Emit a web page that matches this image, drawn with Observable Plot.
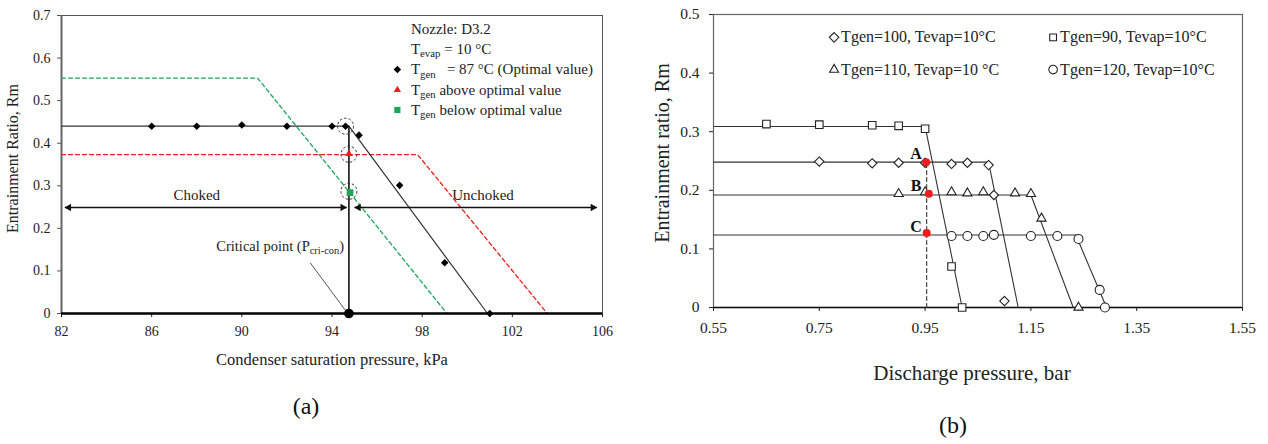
<!DOCTYPE html>
<html><head><meta charset="utf-8">
<script src="https://cdn.jsdelivr.net/npm/d3@7"></script>
<script src="https://cdn.jsdelivr.net/npm/@observablehq/plot@0.6"></script>
<style>
body{margin:0;background:#fff;}
#wrap{position:relative;width:1268px;height:444px;overflow:hidden;background:#fff;}
#pa{position:absolute;left:0;top:0;}
#pb{position:absolute;left:634px;top:0;}
svg text{white-space:pre;}
</style></head><body><div id="wrap"><div id="pa"></div><div id="pb"></div></div>
<script>
// ---------- Panel (a) data ----------
const aXTicks = [82, 86, 90, 94, 98, 102, 106];
const aYTicks = [0, 0.1, 0.2, 0.3, 0.4, 0.5, 0.6, 0.7];
const aXLabel = "Condenser saturation pressure, kPa";
const aYLabel = "Entrainment Ratio, Rm";
const aCaption = "(a)";
const aOptX = [86, 88, 90, 92, 94, 94.6, 95.2, 97, 99, 101];
const aOptY = [0.44, 0.44, 0.443, 0.44, 0.44, 0.44, 0.419, 0.301, 0.119, 0];
const aOptFitX = [82, 94.75, 100.9];
const aOptFitY = [0.44, 0.44, 0];
const aAboveFitX = [82, 97.8, 103.55];
const aAboveFitY = [0.373, 0.373, 0];
const aBelowFitX = [82, 90.7, 99.1];
const aBelowFitY = [0.553, 0.553, 0];
const aCritX = [94.75];
const aCritTop = [0.44];
const aCritPointY = [0];
const aAboveX = [94.75];
const aAboveY = [0.375];
const aBelowX = [94.8];
const aBelowY = [0.284];
const aRingX = [94.6, 94.75, 94.75];
const aRingY = [0.44, 0.374, 0.287];
const aArrowY = [0.249, 0.249];
const aArrowX1 = [82.15, 95.0];
const aArrowX2 = [94.65, 105.75];
const aRegionLabels = ["Choked", "Unchoked"];
const aRegionX = [88, 100.7];
const aRegionY = [0.279, 0.279];
const aCritLabel = ["Critical point (P[cri-con])"];
const aCritLabelX = [91.7];
const aCritLabelY = [0.158];
const aLeaderX = [93.05, 94.7];
const aLeaderY = [0.118, 0.0];
const aLegendText = ["Nozzle: D3.2", "T[evap] = 10 °C", "T[gen]   = 87 °C (Optimal value)", "T[gen] above optimal value", "T[gen] below optimal value"];
const aLegendY = [0.669, 0.622, 0.573, 0.525, 0.478];
const aLegendX = 97.5;
const aLegendSymX = 96.9;

// ---------- Panel (b) data ----------
const bXTicks = [0.55, 0.75, 0.95, 1.15, 1.35, 1.55];
const bYTicks = [0, 0.1, 0.2, 0.3, 0.4, 0.5];
const bXLabel = "Discharge pressure, bar";
const bYLabel = "Entrainment ratio, Rm";
const bCaption = "(b)";
const b90X = [0.65, 0.75, 0.85, 0.90, 0.95, 1.00, 1.02];
const b90Y = [0.313, 0.312, 0.311, 0.310, 0.305, 0.070, 0.0];
const b100X = [0.75, 0.85, 0.90, 0.95, 1.00, 1.03, 1.07, 1.08, 1.10];
const b100Y = [0.249, 0.246, 0.247, 0.247, 0.245, 0.247, 0.243, 0.192, 0.011];
const b110X = [0.90, 0.95, 1.00, 1.03, 1.06, 1.12, 1.15, 1.17, 1.24];
const b110Y = [0.194, 0.197, 0.197, 0.195, 0.197, 0.195, 0.194, 0.152, 0.0];
const b120X = [1.00, 1.03, 1.06, 1.08, 1.15, 1.20, 1.24, 1.28, 1.29];
const b120Y = [0.122, 0.122, 0.122, 0.124, 0.122, 0.122, 0.117, 0.030, 0.0];
const b90FitX = [0.55, 0.95, 1.02];
const b90FitY = [0.309, 0.309, 0];
const b100FitX = [0.55, 1.07, 1.126];
const b100FitY = [0.248, 0.248, 0];
const b110FitX = [0.55, 1.15, 1.23];
const b110FitY = [0.192, 0.192, 0];
const b120FitX = [0.55, 1.235, 1.293];
const b120FitY = [0.1236, 0.1236, 0];
const bMarkLabels = ["A", "B", "C"];
const bMarkX = [0.952, 0.957, 0.953];
const bMarkY = [0.248, 0.194, 0.127];
const bMarkLabelX = [0.933, 0.933, 0.933];
const bMarkLabelY = [0.262, 0.208, 0.138];
const bDashX = [0.953, 0.953];
const bDashY = [0, 0.248];
const bLegendLabels = ["Tgen=100, Tevap=10°C", "Tgen=90, Tevap=10°C", "Tgen=110, Tevap=10 °C", "Tgen=120, Tevap=10°C"];
const bLegendSymbols = ["diamond2", "square2", "triangle2", "circle"];
const bLegendX = [0.778, 1.192, 0.778, 1.192];
const bLegendY = [0.461, 0.461, 0.406, 0.406];

const serif = "'Liberation Serif', 'Times New Roman', serif";
const ink = "#222";
const red = "#ee1c1c";
const green = "#1fa55a";
const zip = (xs, ys, extra = {}) => xs.map((x, i) => ({x, y: ys[i], i, ...Object.fromEntries(Object.entries(extra).map(([k, v]) => [k, v[i]]))}));
const fmtY = d => d === 0 ? "0" : String(d);

// ---------- Panel (a) ----------
const plotA = Plot.plot({
  width: 634, height: 444,
  marginLeft: 61, marginRight: 32, marginTop: 15, marginBottom: 131,
  style: {fontFamily: serif, fontSize: "14px", color: ink, background: "white", overflow: "visible"},
  x: {domain: [82, 106]},
  y: {domain: [0, 0.7]},
  marks: [
    Plot.frame({stroke: "#555", strokeWidth: 1}),
    Plot.ruleX([82], {stroke: "#666", strokeWidth: 2}),
    Plot.axisX({ticks: aXTicks, tickFormat: d => String(d), tickSize: 4, tickPadding: 9, fontSize: 14, fontFamily: serif, label: null, stroke: ink}),
    Plot.axisY({ticks: aYTicks, tickFormat: fmtY, tickSize: 4, tickPadding: 7, fontSize: 14, fontFamily: serif, label: null, stroke: "#555"}),
    // fitted lines
    Plot.line(zip(aBelowFitX, aBelowFitY), {x: "x", y: "y", stroke: green, strokeWidth: 1.3, strokeDasharray: "4,3"}),
    Plot.line(zip(aAboveFitX, aAboveFitY), {x: "x", y: "y", stroke: red, strokeWidth: 1.3, strokeDasharray: "4,3"}),
    Plot.line(zip(aOptFitX, aOptFitY), {x: "x", y: "y", stroke: "#333", strokeWidth: 1.2}),
    Plot.ruleX(zip(aCritX, aCritTop), {x: "x", y1: 0, y2: "y", stroke: "#111", strokeWidth: 1.6}),
    Plot.ruleY([0], {stroke: "#000", strokeWidth: 2.5}),
    // arrows
    Plot.link(zip(aArrowX1, aArrowY, {x2: aArrowX2}), {x1: "x", x2: "x2", y1: "y", y2: "y", stroke: "#111", strokeWidth: 1.3}),
    Plot.dot(zip(aArrowX1, aArrowY), {x: "x", y: "y", symbol: "triangle2", r: 3.6, rotate: -90, fill: "#111", stroke: null, dx: 4}),
    Plot.dot(zip(aArrowX2, aArrowY), {x: "x", y: "y", symbol: "triangle2", r: 3.6, rotate: 90, fill: "#111", stroke: null, dx: -4}),
    // leader
    Plot.line(zip(aLeaderX, aLeaderY), {x: "x", y: "y", stroke: "#555", strokeWidth: 1}),
    // points
    Plot.dot(zip(aOptX, aOptY), {x: "x", y: "y", symbol: "diamond2", r: 3.4, fill: "#000", stroke: null}),
    Plot.dot(zip(aCritX, aCritPointY), {x: "x", y: "y", r: 4.8, fill: "#000", stroke: null}),
    Plot.dot(zip(aAboveX, aAboveY), {x: "x", y: "y", symbol: "triangle2", r: 3.6, fill: red, stroke: null}),
    Plot.dot(zip(aBelowX, aBelowY), {x: "x", y: "y", symbol: "square", r: 3.8, fill: green, stroke: null}),
    Plot.dot(zip(aRingX, aRingY), {x: "x", y: "y", r: 8, fill: "none", stroke: "#333", strokeWidth: 1, strokeDasharray: "2.5,2"}),
    // annotations
    Plot.text(zip(aRegionX, aRegionY, {t: aRegionLabels}), {x: "x", y: "y", text: "t", fontSize: 15, fontFamily: serif, fill: ink}),
    Plot.text(zip(aCritLabelX, aCritLabelY, {t: aCritLabel}), {x: "x", y: "y", text: "t", fontSize: 14.5, fontFamily: serif, fill: ink}),
    // legend
    Plot.text(aLegendText.map((t, i) => ({t, y: aLegendY[i]})), {x: aLegendX, y: "y", text: "t", textAnchor: "start", fontSize: 15, fontFamily: serif, fill: ink}),
    Plot.dot([{y: aLegendY[2]}], {x: aLegendSymX, y: "y", symbol: "diamond2", r: 3.4, fill: "#000", stroke: null}),
    Plot.dot([{y: aLegendY[3]}], {x: aLegendSymX, y: "y", symbol: "triangle2", r: 3.5, fill: red, stroke: null}),
    Plot.dot([{y: aLegendY[4]}], {x: aLegendSymX, y: "y", symbol: "square", r: 3.5, fill: green, stroke: null}),
    // axis labels + caption
    Plot.text([aXLabel], {frameAnchor: "bottom", dy: 51, fontSize: 16.5, fontFamily: serif, fill: ink}),
    Plot.text([aYLabel], {frameAnchor: "left", textAnchor: "middle", rotate: -90, dx: -49, dy: -6, fontSize: 16, fontFamily: serif, fill: ink}),
    Plot.text([aCaption], {frameAnchor: "bottom", dx: -26, dy: 100, fontSize: 24, fontFamily: serif, fill: "#111"})
  ]
});
document.getElementById("pa").appendChild(plotA);

// ---------- Panel (b) ----------
const seriesB = [
  {X: b90X, Y: b90Y, FX: b90FitX, FY: b90FitY, sym: "square2", r: 4.8},
  {X: b100X, Y: b100Y, FX: b100FitX, FY: b100FitY, sym: "diamond2", r: 4.2},
  {X: b110X, Y: b110Y, FX: b110FitX, FY: b110FitY, sym: "triangle2", r: 4.4},
  {X: b120X, Y: b120Y, FX: b120FitX, FY: b120FitY, sym: "circle", r: 4.5}
];
const plotB = Plot.plot({
  width: 634, height: 444,
  marginLeft: 79, marginRight: 26, marginTop: 14, marginBottom: 137,
  style: {fontFamily: serif, fontSize: "15.5px", color: ink, background: "white", overflow: "visible"},
  x: {domain: [0.55, 1.55]},
  y: {domain: [0, 0.5]},
  marks: [
    Plot.frame({stroke: "#666", strokeWidth: 1.2}),
    Plot.axisX({ticks: bXTicks, tickFormat: d => d.toFixed(2), tickSize: 4, tickPadding: 10, fontSize: 15.5, fontFamily: serif, label: null, stroke: ink}),
    Plot.axisY({ticks: bYTicks, tickFormat: fmtY, tickSize: 4, tickPadding: 10, fontSize: 15.5, fontFamily: serif, label: null, stroke: ink}),
    Plot.ruleY([0], {stroke: "#111", strokeWidth: 1.5}),
    ...seriesB.map(s => Plot.line(zip(s.FX, s.FY), {x: "x", y: "y", stroke: "#333", strokeWidth: 1.1})),
    Plot.line(zip(bDashX, bDashY), {x: "x", y: "y", stroke: "#333", strokeWidth: 1.1, strokeDasharray: "4,3"}),
    ...seriesB.map(s => Plot.dot(zip(s.X, s.Y), {x: "x", y: "y", symbol: s.sym, r: s.r, fill: "white", stroke: "#222", strokeWidth: 1.1})),
    Plot.dot(zip(bMarkX, bMarkY), {x: "x", y: "y", r: 4, fill: red, stroke: null}),
    Plot.text(zip(bMarkLabelX, bMarkLabelY, {t: bMarkLabels}), {x: "x", y: "y", text: "t", fontSize: 16, fontWeight: "bold", fontFamily: serif, fill: "#111"}),
    // legend
    Plot.dot(zip(bLegendX, bLegendY, {s: bLegendSymbols}), {x: "x", y: "y", symbol: "s", r: 4.3, fill: "white", stroke: "#222", strokeWidth: 1.1}),
    Plot.text(zip(bLegendX, bLegendY, {t: bLegendLabels}), {x: "x", y: "y", text: "t", dx: 7, textAnchor: "start", fontSize: 16, fontFamily: serif, fill: ink}),
    // axis labels + caption
    Plot.text([bXLabel], {frameAnchor: "bottom", dx: -6, dy: 72, fontSize: 21, fontFamily: serif, fill: ink}),
    Plot.text([bYLabel], {frameAnchor: "left", textAnchor: "middle", rotate: -90, dx: -51, dy: -8, fontSize: 20, fontFamily: serif, fill: ink}),
    Plot.text([bCaption], {frameAnchor: "bottom", dx: -25, dy: 125, fontSize: 24, fontFamily: serif, fill: "#111"})
  ]
});
document.getElementById("pb").appendChild(plotB);

// ---------- subscripts: "T[gen]" -> T with subscript "gen" ----------
function subify(svg) {
  svg.querySelectorAll("text").forEach(t => {
    if (t.querySelector("tspan")) return;
    const s = t.textContent;
    if (!/\[[^\]]+\]/.test(s)) return;
    const fs = parseFloat(t.getAttribute("font-size") || getComputedStyle(t).fontSize) || 14;
    t.textContent = "";
    const parts = s.split(/(\[[^\]]+\])/);
    let shifted = false;
    const ns = "http://www.w3.org/2000/svg";
    parts.forEach(p => {
      if (!p) return;
      const ts = document.createElementNS(ns, "tspan");
      if (p.startsWith("[")) {
        ts.textContent = p.slice(1, -1);
        ts.setAttribute("font-size", (fs * 0.72).toFixed(1));
        ts.setAttribute("dy", (fs * 0.22).toFixed(1));
        shifted = true;
      } else {
        ts.textContent = p;
        if (shifted) { ts.setAttribute("dy", (-fs * 0.22).toFixed(1)); shifted = false; }
      }
      t.appendChild(ts);
    });
  });
}
subify(plotA);
subify(plotB);
</script>
</body></html>
